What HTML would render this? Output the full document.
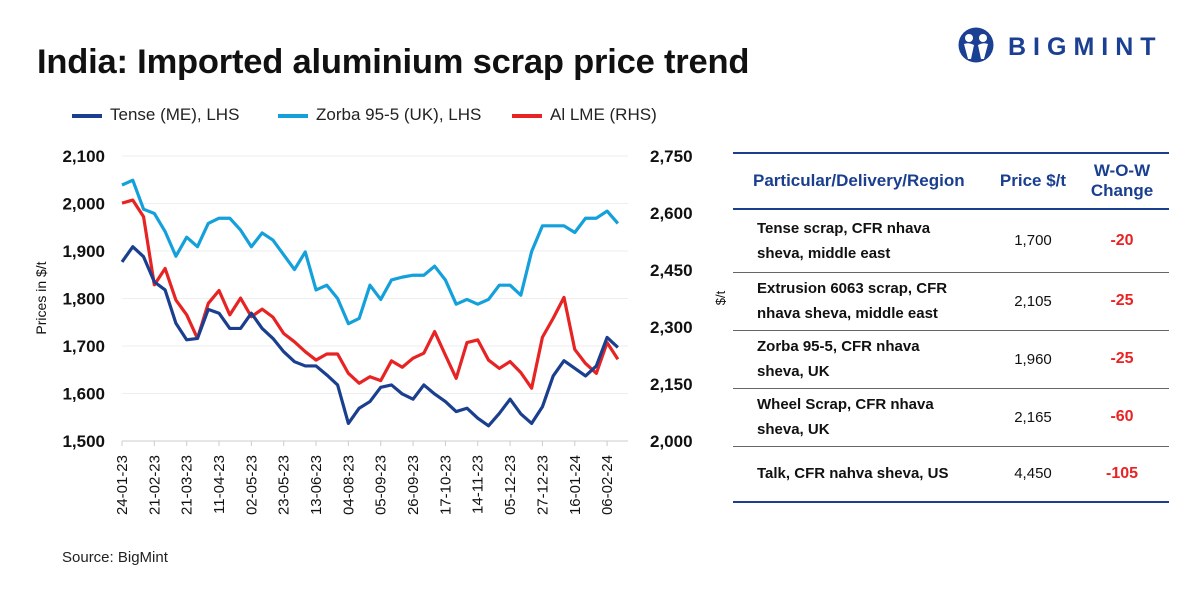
<!DOCTYPE html>
<html><head><meta charset="utf-8">
<style>
body{margin:0;width:1200px;height:600px;background:#fff;font-family:"Liberation Sans",sans-serif;overflow:hidden;position:relative}
.t{position:absolute}
table{border-collapse:collapse}
</style></head><body>
<div class="t" style="left:37px;top:43px;font-size:34.5px;font-weight:bold;color:#111;letter-spacing:-0.2px">India: Imported aluminium scrap price trend</div>
<div class="t" style="left:956px;top:27px;width:210px;height:38px">
<svg width="40" height="38" style="position:absolute;left:0;top:0"><circle cx="20" cy="18" r="17.5" fill="#1b3f92"/><circle cx="13" cy="11" r="4" fill="#fff"/><circle cx="27" cy="11" r="4" fill="#fff"/><path d="M8 17 Q13 15 18 18 L15 32 L12 32 Z M32 17 Q27 15 22 18 L25 32 L28 32 Z" fill="#fff"/></svg>
<div class="t" style="left:52px;top:6px;font-size:25px;font-weight:bold;color:#1b3f92;letter-spacing:7px">BIGMINT</div>
</div>
<div class="t" style="left:72px;top:105px;font-size:17px;color:#222;width:620px;height:22px">
<span style="position:absolute;left:0;top:9px;width:30px;height:4px;background:#1b3f8f"></span><span style="position:absolute;left:38px;top:0">Tense (ME), LHS</span>
<span style="position:absolute;left:206px;top:9px;width:30px;height:4px;background:#14a0db"></span><span style="position:absolute;left:244px;top:0">Zorba 95-5 (UK), LHS</span>
<span style="position:absolute;left:440px;top:9px;width:30px;height:4px;background:#e82323"></span><span style="position:absolute;left:478px;top:0">Al LME (RHS)</span>
</div>
<svg class="t" id="chart" style="left:0;top:0" width="730" height="600"></svg>
<div class="t" style="left:62px;top:549px;font-size:15px;color:#222">Source: BigMint</div>

<div class="t" style="left:733px;top:152px;width:436px">
<table style="width:436px;font-size:15px;color:#111">
<tr style="border-top:2px solid #1b3f8f;border-bottom:2px solid #1b3f8f;height:56px;color:#1b3f8f;font-size:17px;font-weight:bold">
<td style="padding-left:20px">Particular/Delivery/Region</td><td style="text-align:center;width:82px">Price $/t</td><td style="text-align:center;width:92px;line-height:20px">W-O-W<br>Change</td></tr>
<tr style="border-bottom:1px solid #666;height:63px"><td style="padding-left:24px;font-weight:bold;line-height:25px">Tense scrap, CFR nhava<br>sheva, middle east</td><td style="text-align:center">1,700</td><td style="text-align:center;color:#e82323;font-weight:bold;font-size:16px">-20</td></tr>
<tr style="border-bottom:1px solid #666;height:58px"><td style="padding-left:24px;font-weight:bold;line-height:25px">Extrusion 6063 scrap, CFR<br>nhava sheva, middle east</td><td style="text-align:center">2,105</td><td style="text-align:center;color:#e82323;font-weight:bold;font-size:16px">-25</td></tr>
<tr style="border-bottom:1px solid #666;height:58px"><td style="padding-left:24px;font-weight:bold;line-height:25px">Zorba 95-5, CFR nhava<br>sheva, UK</td><td style="text-align:center">1,960</td><td style="text-align:center;color:#e82323;font-weight:bold;font-size:16px">-25</td></tr>
<tr style="border-bottom:1px solid #666;height:58px"><td style="padding-left:24px;font-weight:bold;line-height:25px">Wheel Scrap, CFR nhava<br>sheva, UK</td><td style="text-align:center">2,165</td><td style="text-align:center;color:#e82323;font-weight:bold;font-size:16px">-60</td></tr>
<tr style="border-bottom:2px solid #1b3f8f;height:56px"><td style="padding-left:24px;font-weight:bold">Talk, CFR nahva sheva, US</td><td style="text-align:center">4,450</td><td style="text-align:center;color:#e82323;font-weight:bold;font-size:16px">-105</td></tr>
</table></div>

<script>
const tense=[1877,1909,1888,1835,1818,1748,1713,1716,1777,1769,1737,1737,1769,1737,1716,1688,1667,1658,1658,1639,1618,1537,1569,1583,1613,1618,1599,1588,1618,1599,1583,1562,1569,1548,1532,1558,1588,1557,1537,1572,1637,1669,1653,1637,1658,1718,1697];
const zorba=[2039,2049,1988,1979,1941,1889,1929,1909,1958,1969,1969,1944,1909,1938,1923,1892,1861,1898,1818,1828,1800,1747,1758,1828,1798,1839,1845,1849,1849,1868,1839,1788,1798,1788,1798,1828,1828,1807,1899,1953,1953,1953,1939,1969,1969,1984,1958];
const lme=[2626,2634,2590,2411,2454,2371,2332,2270,2362,2396,2332,2376,2327,2347,2326,2283,2261,2235,2213,2229,2229,2178,2152,2169,2159,2211,2194,2218,2231,2288,2226,2165,2259,2266,2213,2191,2209,2180,2139,2273,2323,2378,2241,2204,2178,2259,2215];
const xLabels=["24-01-23","21-02-23","21-03-23","11-04-23","02-05-23","23-05-23","13-06-23","04-08-23","05-09-23","26-09-23","17-10-23","14-11-23","05-12-23","27-12-23","16-01-24","06-02-24"];
const leftTicks=[1500,1600,1700,1800,1900,2000,2100];
const rightTicks=[2000,2150,2300,2450,2600,2750];

const svg=document.getElementById('chart');
const NS='http://www.w3.org/2000/svg';
const X0=122,DX=10.78,TOP=156,BOT=441;
const x=i=>X0+i*DX;
const yL=v=>BOT-(v-1500)/600*(BOT-TOP);
const yR=v=>BOT-(v-2000)/750*(BOT-TOP);
function mk(t,a){const e=document.createElementNS(NS,t);for(const k in a)e.setAttribute(k,a[k]);svg.appendChild(e);return e;}
leftTicks.forEach(v=>{
 const g=mk('line',{x1:X0,x2:628,y1:yL(v),y2:yL(v),stroke:v==1500?'#ccc':'#eee','stroke-width':1});
 
 
 const t=mk('text',{x:105,y:yL(v)+6,'text-anchor':'end','font-size':17,'font-weight':'bold',fill:'#111'});
 t.textContent=v.toLocaleString('en-US');
 
 
});
rightTicks.forEach(v=>{
 const t=mk('text',{x:650,y:yR(v)+6,'font-size':17,'font-weight':'bold',fill:'#111'});
 t.textContent=v.toLocaleString('en-US');
 
 
});
xLabels.forEach((l,k)=>{
 const xi=x(k*3);
 const tk=mk('line',{x1:xi,x2:xi,y1:BOT,y2:BOT+5,stroke:'#ccc'});
 
 
 const t=mk('text',{x:0,y:0,'text-anchor':'end','font-size':15,fill:'#111',transform:`translate(${xi+5},455) rotate(-90)`});
 t.textContent=l;
 
 
});
const yt=mk('text',{x:0,y:0,'text-anchor':'middle','font-size':14,fill:'#111',transform:'translate(46,298) rotate(-90)'});
yt.textContent='Prices in $/t';


const yt2=mk('text',{x:0,y:0,'text-anchor':'middle','font-size':13,fill:'#111',transform:'translate(725,298) rotate(-90)'});
yt2.textContent='$/t';


function line(arr,fy,col,name){
 const p=mk('polyline',{points:arr.map((v,i)=>x(i)+','+fy(v)).join(' '),fill:'none',stroke:col,'stroke-width':3.2,'stroke-linejoin':'round'});
 
 
}
line(zorba,yL,'#14a0db','zorba-line');
line(lme,yR,'#e82323','lme-line');
line(tense,yL,'#1b3f8f','tense-line');
</script>
</body></html>
